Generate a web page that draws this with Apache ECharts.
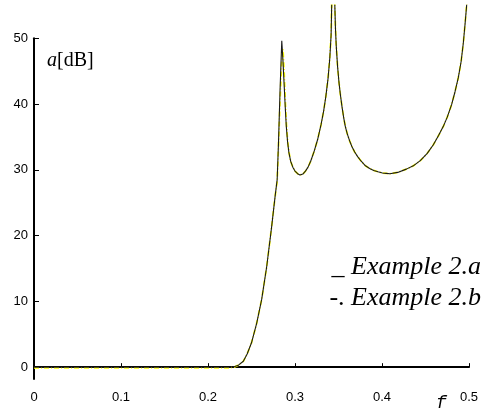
<!DOCTYPE html>
<html><head><meta charset="utf-8">
<script src="https://cdn.jsdelivr.net/npm/echarts@6/dist/echarts.min.js"></script>
<style>html,body{margin:0;padding:0;background:#fff}#c{width:483px;height:411px}</style>
</head><body><div id="c"></div>
<script>
// normalized frequency f
const freq = [
  0, 0.05, 0.1, 0.15, 0.2, 0.225, 0.23, 0.235, 0.2406, 0.245,
  0.25, 0.256, 0.2617, 0.2675, 0.2732, 0.277, 0.2795, 0.281, 0.2828, 0.2848,
  0.2862, 0.2875, 0.2888, 0.29, 0.2915, 0.293, 0.295, 0.2975, 0.3, 0.303,
  0.3057, 0.309, 0.312, 0.315, 0.318, 0.322, 0.326, 0.33, 0.333, 0.3355,
  0.338, 0.34, 0.3415, 0.3437, 0.3465, 0.3475, 0.349, 0.3506, 0.352, 0.354,
  0.356, 0.3578, 0.36, 0.3628, 0.3655, 0.3686, 0.372, 0.3761, 0.381, 0.3858,
  0.3905, 0.3954, 0.4005, 0.4049, 0.409, 0.418, 0.428, 0.436, 0.444, 0.452,
  0.459, 0.465, 0.4705, 0.475, 0.48, 0.484, 0.4877, 0.491, 0.4935, 0.4955,
  0.4973, 0.5
];
// attenuation a [dB], Example 2.a (solid)
const exampleA = [
  0, 0, 0, 0, 0, 0, 0.05, 0.3, 0.9, 2.0,
  3.7, 6.7, 10.3, 15.3, 21.4, 25.8, 28.5, 34, 42, 49.6,
  46.5, 43.0, 39.5, 36.6, 34.2, 32.6, 31.3, 30.4, 29.8, 29.4,
  29.2, 29.35, 29.8, 30.4, 31.3, 32.8, 34.6, 36.9, 39.0, 41.2,
  43.9, 47.0, 50.5, 65, 51.5, 48.6, 45.6, 43.2, 41.6, 39.6,
  37.9, 36.6, 35.5, 34.4, 33.5, 32.7, 32.0, 31.3, 30.6, 30.2,
  29.9, 29.7, 29.5, 29.45, 29.4, 29.6, 30.1, 30.6, 31.4, 32.5,
  33.8, 35.2, 36.6, 38.0, 39.9, 41.9, 44.0, 46.5, 49.3, 52.2,
  55, 60
];
// Example 2.b (dash-dot)
const exampleB = [
  -0.1, -0.1, -0.1, -0.1, -0.1, -0.1, 0, 0.3, 0.9, 2.0,
  3.7, 6.7, 10.3, 15.3, 21.4, 25.8, 28.3, 33.5, 40.5, 46.5,
  48.3, 45.0, 40.5, 37.2, 34.4, 32.7, 31.3, 30.4, 29.8, 29.4,
  29.2, 29.35, 29.8, 30.4, 31.3, 32.8, 34.6, 36.9, 39.0, 41.2,
  43.9, 47.0, 50.5, 65, 51.5, 48.6, 45.6, 43.2, 41.6, 39.6,
  37.9, 36.6, 35.5, 34.4, 33.5, 32.7, 32.0, 31.3, 30.6, 30.2,
  29.9, 29.7, 29.5, 29.45, 29.4, 29.6, 30.1, 30.6, 31.4, 32.5,
  33.8, 35.2, 36.6, 38.0, 39.9, 41.9, 44.0, 46.5, 49.3, 52.2,
  55, 60
];
const yTicks = [0, 10, 20, 30, 40, 50];
const xLabels = ['0', '0.1', '0.2', '0.3', '0.4', '0.5'];
const legendA = 'Example 2.a';
const legendB = 'Example 2.b';

const chart = echarts.init(document.getElementById('c'), null, {renderer:'canvas'});
const labelFont = {fontFamily:'Liberation Sans', fontSize:13, color:'#000'};
chart.setOption({
  animation:false,
  backgroundColor:'#fff',
  grid:[
    {left:34, right:14, top:38.2, bottom:32},
    {left:34, right:14, top:5.3, bottom:32}
  ],
  xAxis:[
    {gridIndex:0, type:'value', min:0, max:0.5, interval:0.1,
     axisLine:{show:true, lineStyle:{color:'#000', width:2}},
     axisTick:{show:true, inside:true, length:4, lineStyle:{color:'#000', width:1}},
     axisLabel:Object.assign({margin:12, formatter:(v)=>xLabels[Math.round(v*10)]}, labelFont),
     splitLine:{show:false}},
    {gridIndex:1, type:'value', min:0, max:0.5, show:false, splitLine:{show:false}}
  ],
  yAxis:[
    {gridIndex:0, type:'value', min:-1.8, max:50,
     axisLine:{show:true, lineStyle:{color:'#000', width:2}},
     axisTick:{show:true, inside:true, length:5, customValues:yTicks, lineStyle:{color:'#000', width:1}},
     axisLabel:Object.assign({margin:6, customValues:yTicks}, labelFont),
     splitLine:{show:false}},
    {gridIndex:1, type:'value', min:-1.8, max:55, show:false, splitLine:{show:false}}
  ],
  series:[
    {name:legendB, type:'line', xAxisIndex:1, yAxisIndex:1, showSymbol:false, symbol:'none', clip:true,
     data:freq.map((f,i)=>[f,exampleB[i]]), lineStyle:{color:'#ffff00', width:1.8, type:[5,2,1,2]}, z:2},
    {name:legendA, type:'line', xAxisIndex:1, yAxisIndex:1, showSymbol:false, symbol:'none', clip:true,
     data:freq.map((f,i)=>[f,exampleA[i]]), lineStyle:{color:'#1a1a1a', width:1.1}, z:3}
  ],
  graphic:[
    {type:'text', x:47, y:61, style:{text:'{i|a}{r|[dB]}', verticalAlign:'middle', textVerticalAlign:'middle',
      rich:{i:{fontFamily:'Liberation Serif', fontStyle:'italic', fontSize:20, color:'#000'},
            r:{fontFamily:'Liberation Serif', fontSize:20, color:'#000'}}}},
    {type:'text', x:481, y:267, style:{text:'{r|_ }{i|'+legendA+'}', align:'right', textAlign:'right', verticalAlign:'middle', textVerticalAlign:'middle',
      rich:{i:{fontFamily:'Liberation Serif', fontStyle:'italic', fontSize:26, color:'#000'},
            r:{fontFamily:'Liberation Serif', fontSize:26, color:'#000'}}}},
    {type:'text', x:481, y:298, style:{text:'{r|-. }{i|'+legendB+'}', align:'right', textAlign:'right', verticalAlign:'middle', textVerticalAlign:'middle',
      rich:{i:{fontFamily:'Liberation Serif', fontStyle:'italic', fontSize:26, color:'#000'},
            r:{fontFamily:'Liberation Serif', fontSize:26, color:'#000'}}}},
    {type:'text', x:436, y:403, style:{text:'f', font:'italic 18px "Liberation Mono"', fill:'#000', verticalAlign:'middle', textVerticalAlign:'middle'}}
  ]
});
</script></body></html>
